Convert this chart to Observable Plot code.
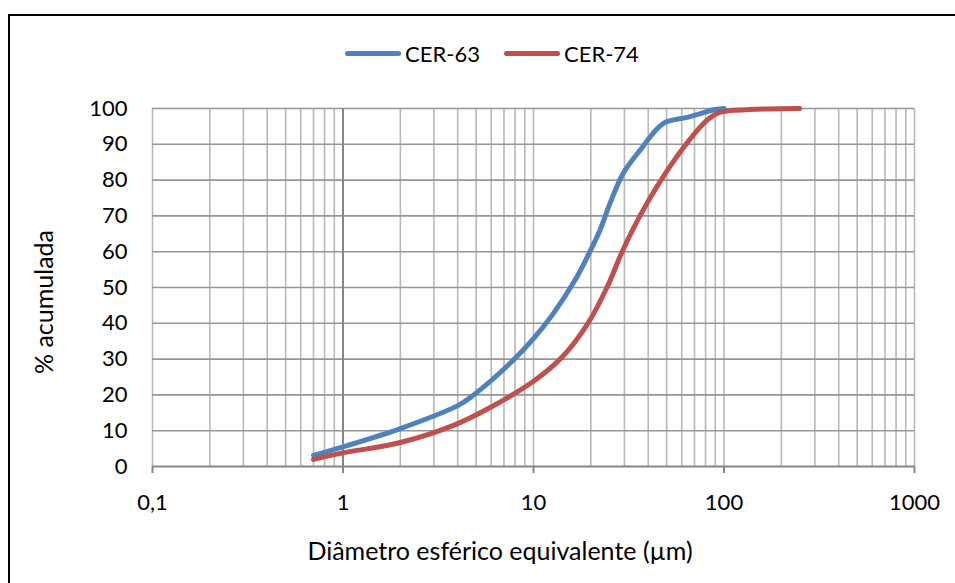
<!DOCTYPE html>
<html>
<head>
<meta charset="utf-8">
<script src="https://cdn.jsdelivr.net/npm/d3@7"></script>
<script src="https://cdn.jsdelivr.net/npm/@observablehq/plot@0.6"></script>
<style>
  html, body { margin: 0; padding: 0; background: #fff; overflow: hidden; }
  #wrap { position: relative; width: 955px; height: 583px; font-family: Lato, "Open Sans", sans-serif; }
  #border { position: absolute; left: 8px; top: 14px; width: 1000px; height: 1000px; border: 2px solid #000; box-sizing: border-box; pointer-events: none; }
  #legend { position: absolute; top: 40px; left: 0; width: 984px; display: flex; justify-content: center; align-items: center; font-size: 22px; color: #000; }
  .item { display: flex; align-items: center; margin: 0 12px; }
  .swatch { width: 56px; height: 5px; border-radius: 3px; margin-right: 4px; }
  #xtitle { position: absolute; top: 535px; left: 0; width: 1000px; text-align: center; font-size: 25px; }
  #ytitle { position: absolute; left: 43px; top: 302px; transform: translate(-50%, -50%) rotate(-90deg); font-size: 25px; white-space: nowrap; }
  svg { position: absolute; left: 0; top: 0; }
</style>
</head>
<body>
<div id="wrap">
  <div id="chart"></div>
  <div id="legend"></div>
  <div id="xtitle">Diâmetro esférico equivalente (µm)</div>
  <div id="ytitle">% acumulada</div>
  <div id="border"></div>
</div>
<script>
// Cumulative particle size distributions (laser diffraction)
const seriesNames = ["CER-63", "CER-74"];
const seriesColors = ["#4F81BD", "#C0504D"];

const diam63 = [0.7, 1, 2, 4, 4.8, 7.8, 10, 12.7, 16.5, 19.1, 22.3, 25.2, 29.5, 36.2, 47.9, 64, 90, 100];
const cum63  = [3.1, 5.5, 10.6, 17.0, 19.8, 29.6, 35.7, 42.7, 52, 58.4, 65.9, 73.5, 81.8, 88.3, 95.8, 97.5, 99.7, 100];

const diam74 = [0.7, 1, 2, 3.8, 5.7, 10, 14.1, 19.3, 24.3, 29.2, 36.2, 46.7, 63.2, 81, 95, 137, 250];
const cum74  = [2.0, 3.8, 6.7, 11.5, 16, 23.8, 30.5, 40, 50, 60, 70, 80, 90, 96.6, 98.9, 99.7, 100];

// Axis ticks
const xTicks = [0.1, 1, 10, 100, 1000];
const xTickLabels = ["0,1", "1", "10", "100", "1000"];
const yTicks = [0, 10, 20, 30, 40, 50, 60, 70, 80, 90, 100];

// Logarithmic minor grid: 1..9 within each decade
const xGrid = [];
for (const d of [0.1, 1, 10, 100]) for (let k = 1; k < 10; k++) xGrid.push(+(d * k).toPrecision(3));
xGrid.push(1000);

const rows = [
  ...diam63.map((x, i) => ({x, y: cum63[i], s: seriesNames[0]})),
  ...diam74.map((x, i) => ({x, y: cum74[i], s: seriesNames[1]}))
];

const chart = Plot.plot({
  width: 955,
  height: 583,
  marginLeft: 152,
  marginRight: 41,
  marginTop: 108,
  marginBottom: 117,
  style: {fontFamily: "Lato, 'Open Sans', sans-serif", color: "#000", background: "transparent"},
  x: {type: "log", domain: [0.1, 1000], axis: null},
  y: {type: "linear", domain: [0, 100], axis: null},
  color: {domain: seriesNames, range: seriesColors},
  marks: [
    Plot.ruleX(xGrid, {x: d => d, stroke: "#b8b8b8", strokeWidth: 1.6}),
    Plot.ruleY(yTicks.filter(v => v > 0), {y: d => d, stroke: "#969696", strokeWidth: 1.6}),
    Plot.ruleX([1], {x: d => d, stroke: "#868686", strokeWidth: 2}),
    Plot.ruleY([0], {y: d => d, stroke: "#868686", strokeWidth: 2}),
    // decade tick marks hanging below the horizontal axis
    Plot.ruleX(xTicks, {x: d => d, y1: 0, y2: 0, insetBottom: -7, stroke: "#868686", strokeWidth: 2}),
    Plot.axisX({ticks: xTicks, tickFormat: d => xTickLabels[xTicks.indexOf(d)], tickSize: 0, tickPadding: 28, fontSize: 22, label: null}),
    Plot.axisY({ticks: yTicks, tickSize: 0, tickPadding: 25, fontSize: 22, label: null}),
    Plot.line(rows, {x: "x", y: "y", z: "s", stroke: "s", strokeWidth: 5, curve: "catmull-rom", strokeLinecap: "round"})
  ]
});
document.getElementById("chart").appendChild(chart);

// Line-swatch legend
const legend = document.getElementById("legend");
seriesNames.forEach((name, i) => {
  const item = document.createElement("div");
  item.className = "item";
  item.innerHTML = `<div class="swatch" style="background:${seriesColors[i]}"></div><span>${name}</span>`;
  legend.appendChild(item);
});
</script>
</body>
</html>
